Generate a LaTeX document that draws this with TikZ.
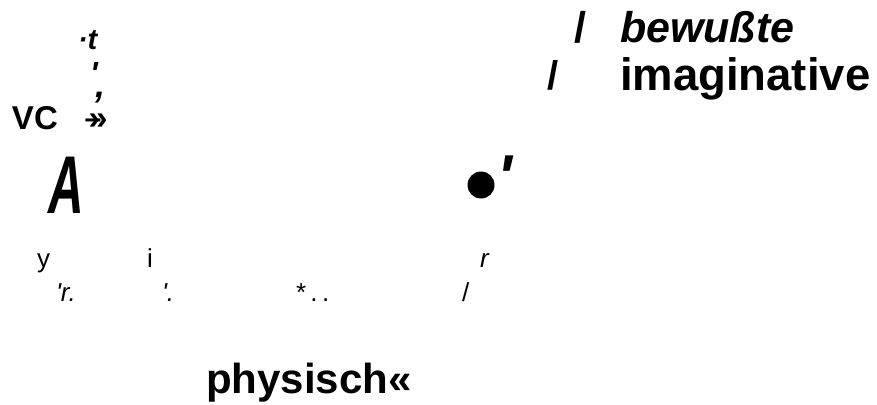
\documentclass[tikz,border=0pt]{standalone}
\usepackage{fontspec}
\setmainfont{Liberation Sans}
\newfontfamily\rawfont{Liberation Sans}
\begin{document}
\begin{tikzpicture}[x=1pt,y=-1pt,
  lab/.style={inner sep=0pt,outer sep=0pt,anchor=base west},
  ctr/.style={inner sep=0pt,outer sep=0pt,anchor=base}]
\useasboundingbox (0,0) rectangle (877,404);
% top left fragments
\node[lab] (tdot) at (78,49) {\fontsize{29}{29}\selectfont\bfseries\itshape ·t};
\node[lab] (apocomma) at (90,97) {\bfseries\itshape\rlap{\raisebox{13pt}{\fontsize{32}{32}\selectfont\rawfont '}}\hspace{5pt}{\fontsize{36}{36}\selectfont ,}};
\node[lab] (vc) at (12,129) {\fontsize{33}{33}\selectfont\bfseries VC};
\node[lab] (guil) at (84.7,129) {\bfseries\rlap{\raisebox{1pt}{\fontsize{30}{30}\selectfont –}}\hspace{3.8pt}{\fontsize{34}{34}\selectfont »}};
\node[lab,xscale=0.6] (bigA) at (48,213) {\fontsize{82}{82}\selectfont\bfseries\itshape A};
% dot and prime
\fill (481,185) circle (13.5) node (dot) {};
\node[lab] (apo2) at (497,198) {\fontsize{62}{62}\selectfont\rawfont\bfseries\itshape '};
% top right
\node[lab] (sl1) at (574,43) {\fontsize{43}{43}\selectfont\bfseries /};
\node[lab] (bew) at (620,43) {\fontsize{43}{43}\selectfont\bfseries\itshape bewußte};
\node[lab] (sl2) at (547,89) {\fontsize{40}{40}\selectfont\bfseries /};
\node[lab] (ima) at (620,90) {\fontsize{45.5}{45.5}\selectfont\bfseries imaginative};
% small line
\node[lab] (y) at (37,267) {\fontsize{26}{26}\selectfont y};
\node[lab] (i) at (147,267) {\fontsize{26}{26}\selectfont i};
\node[lab] (r) at (480,267) {\fontsize{26}{26}\selectfont\itshape r};
\node[lab] (rr) at (56,301) {\fontsize{26}{26}\selectfont\rawfont\itshape 'r.};
\node[lab] (qd) at (162,301) {\fontsize{26}{26}\selectfont\rawfont\itshape '.};
\node[lab] (st) at (296,301) {\fontsize{26}{26}\selectfont *\,.\,.};
\node[lab] (sl3) at (462,301) {\fontsize{26}{26}\selectfont /};
% bottom
\node[lab] (phys) at (206,393) {\fontsize{42}{42}\selectfont\bfseries physisch«};
\end{tikzpicture}
\end{document}
